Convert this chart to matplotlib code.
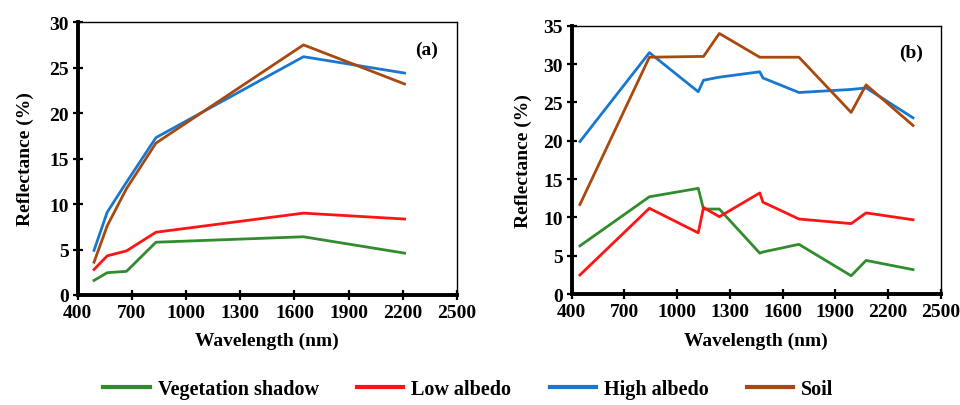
import matplotlib.pyplot as plt
from matplotlib.lines import Line2D

plt.rcParams['font.family'] = ['Liberation Serif', 'DejaVu Serif']
plt.rcParams['font.weight'] = 'bold'

# panel (a) - wavelengths (nm) and reflectance (%)
wl_a = [490, 563, 670, 833, 1650, 2210]
veg_a = [1.6, 2.45, 2.6, 5.8, 6.4, 4.6]
low_a = [2.8, 4.3, 4.85, 6.9, 9.0, 8.35]
high_a = [4.9, 9.1, 12.4, 17.3, 26.2, 24.4]
soil_a = [3.6, 7.6, 11.7, 16.7, 27.5, 23.2]

# panel (b)
wl_b = [447, 842, 1120, 1150, 1240, 1470, 1488, 1693, 1990, 2075, 2342]
veg_b = [6.3, 12.7, 13.8, 11.1, 11.1, 5.35, 5.5, 6.5, 2.4, 4.4, 3.2]
low_b = [2.5, 11.2, 8.0, 11.3, 10.1, 13.2, 12.0, 9.8, 9.2, 10.6, 9.7]
high_b = [19.9, 31.5, 26.4, 27.9, 28.3, 29.0, 28.2, 26.3, 26.7, 26.9, 23.0]
soil_b = [11.7, 30.9, 31.0, 31.0, 34.0, 30.9, 30.9, 30.9, 23.7, 27.3, 22.0]

labels = ["Vegetation shadow", "Low albedo", "High albedo", "Soil"]
colors = ["#318C2E", "#FF1414", "#1878D0", "#A9480F"]
x_ticks = [400, 700, 1000, 1300, 1600, 1900, 2200, 2500]


def style_axis(ax, ymax, step, tag, ylabelpad):
    ax.set_xlim(400, 2500)
    ax.set_ylim(0, ymax)
    ax.set_xticks(x_ticks)
    ax.set_yticks(range(0, ymax + 1, step))
    ax.tick_params(labelsize=14, direction='inout', length=7, width=1.6, pad=3)
    for lab in ax.get_xticklabels() + ax.get_yticklabels():
        lab.set_fontweight('bold')
    ax.spines['left'].set_linewidth(2.8)
    ax.spines['bottom'].set_linewidth(2.8)
    ax.spines['top'].set_linewidth(1.0)
    ax.spines['right'].set_linewidth(1.0)
    ax.set_xlabel("Wavelength (nm)", fontsize=14, fontweight='bold', labelpad=8)
    ax.set_ylabel("Reflectance (%)", fontsize=14, fontweight='bold',
                  labelpad=ylabelpad)
    ax.text(0.92, 0.90, tag, transform=ax.transAxes, fontsize=14,
            fontweight='bold', ha='center', va='center')


fig = plt.figure(figsize=(9.6, 4.06), dpi=100)
ax1 = fig.add_axes([0.081, 0.271, 0.395, 0.672])
ax2 = fig.add_axes([0.5955, 0.273, 0.3845, 0.661])

for ys, c in zip([veg_a, low_a, high_a, soil_a], colors):
    ax1.plot(wl_a, ys, color=c, linewidth=2)
for ys, c in zip([veg_b, low_b, high_b, soil_b], colors):
    ax2.plot(wl_b, ys, color=c, linewidth=2)

style_axis(ax1, 30, 5, "(a)", 11)
style_axis(ax2, 35, 5, "(b)", 8)

handles = [Line2D([], [], color=c, linewidth=3) for c in colors]
fig.legend(handles, labels, loc='lower center', bbox_to_anchor=(0.488, -0.03),
           ncol=4, frameon=False, handlelength=2.3, handletextpad=0.4,
           columnspacing=1.9, prop={'size': 14.5, 'weight': 'bold'})

plt.savefig("out.png", dpi=100)
plt.close()
